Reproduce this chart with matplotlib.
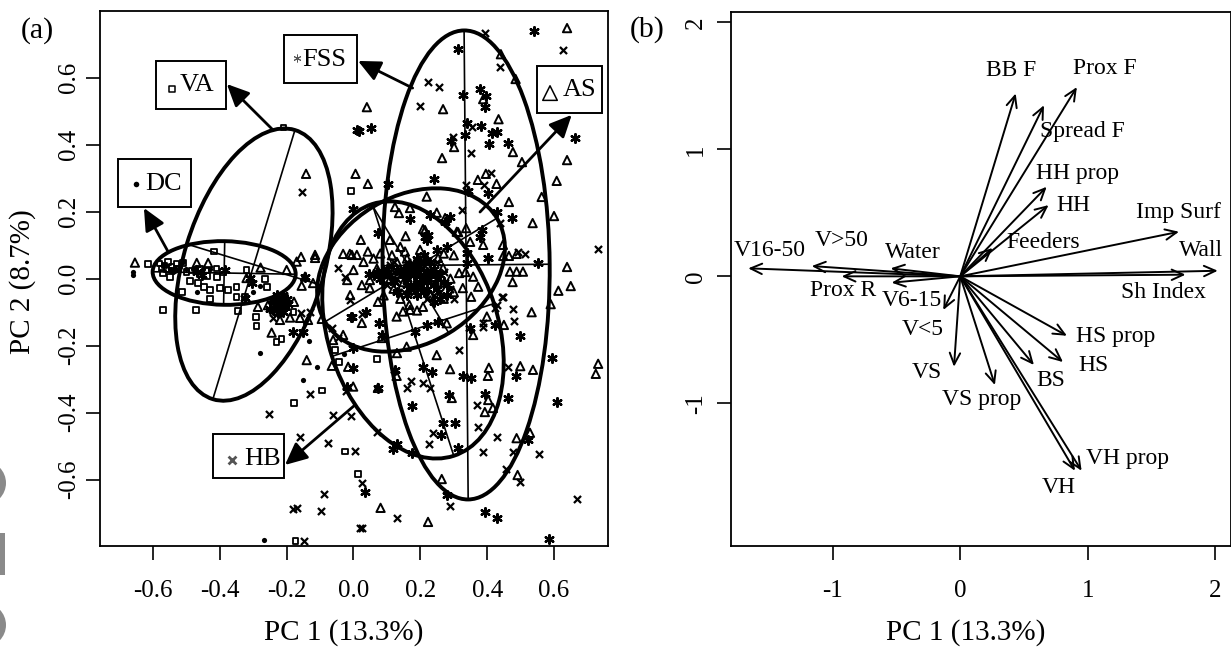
import numpy as np
import matplotlib
matplotlib.use("Agg")
import matplotlib.pyplot as plt
from matplotlib.patches import Ellipse, Rectangle, Circle

plt.rcParams['font.family'] = ['Liberation Serif', 'DejaVu Serif']

# site scores, (PC1, PC2)
as_pc = [(-0.142,0.313),(0.006,0.313),(0.639,0.748),(0.441,0.67),(0.485,0.596),(0.04,0.512),(0.268,0.506),(0.388,0.536),
         (0.434,0.476),(0.301,0.393),(0.265,0.36),(0.477,0.378),(0.504,0.348),(0.639,0.354),(0.608,0.292),(0.043,0.283),
         (0.372,0.295),(0.396,0.313),(0.428,0.283),(0.563,0.244),(0.465,0.229),(0.6,0.187),(0.536,0.166),(0.447,0.101),
         (0.448,0.068),(0.465,0.068),(0.488,0.074),(0.639,0.035),(0.468,0.021),(0.488,0.021),(0.507,0.021),(0.219,0.245),
         (0.124,0.214),(0.136,0.196),(0.169,0.211),(0.313,0.139),(0.337,0.151),(0.208,0.148),(0.156,0.127),(0.109,0.116),
         (0.022,0.116),(0.043,0.081),(-0.011,0.074),(-0.031,0.074),(-0.005,0.071),(0.01,0.071),(-0.115,0.071),(-0.019,-0.004),
         (0,0.026),(0.025,-0.019),(0.049,-0.004),(0.049,-0.028),(-0.01,-0.049),(0.025,-0.132),(0.073,-0.069),(0.084,-0.177),
         (0.129,-0.113),(0.167,-0.078),(0.169,-0.093),(0.19,-0.095),(0.148,-0.098),(0.208,-0.084),(0.279,-0.133),(0.159,-0.203),
         (0.13,-0.222),(0.249,-0.228),(0.358,-0.168),(0.399,-0.113),(0.45,-0.138),(0.352,-0.054),(0.358,0.006),(0.373,-0.024),
         (0.327,-0.028),(0.316,0.017),(0.309,0.14),(0.199,0.086),(0.214,0.145),(0.249,0.197),(0.274,0.181),(0.253,0.062),
         (0.268,0.032),(0.154,0.081),(0.199,0.056),(0.349,0.11),(0.388,0.101),(0.613,-0.036),(0.65,-0.022),(0.533,-0.1),
         (0.59,-0.076),(0.476,-0.01),(0.732,-0.254),(0.725,-0.284),(0.499,-0.261),(0.537,-0.272),(0.405,-0.266),(0.402,-0.29),
         (0.403,-0.362),(0.393,-0.398),(0.417,-0.386),(0.488,-0.476),(0.528,-0.46),(0.491,-0.586),(0.223,-0.726),(0.081,-0.684),
         (0.264,-0.598),(0.294,-0.356),(0.289,-0.27),(0.129,-0.29),(0.073,-0.326),(-0.654,0.048),(-0.435,0.047),(-0.469,0.047),
         (-0.278,0.033),(-0.2,0.026),(-0.17,0.051),(-0.157,0.065),(-0.115,0.062),(-0.155,-0.021),(-0.145,0.006),(-0.121,-0.013),
         (-0.245,-0.161),(-0.286,-0.084),(-0.22,-0.123),(-0.19,-0.116),(-0.16,-0.117),(-0.136,-0.123),(-0.178,-0.069),(-0.256,-0.079),
         (-0.32,0.002),(-0.14,-0.243),(-0.065,-0.26),(-0.016,-0.263),(-0.031,-0.168),(-0.061,-0.183),(-0.095,-0.12),(-0.001,-0.322),
         (0.07,0.03),(0.1,0.02),(0.13,0.05),(0.16,0.06),(0.18,0.03),(0.22,0.04),(0.24,0.02),(0.12,-0.03),(0.15,-0.01),(0.2,-0.02),
         (0.23,-0.05),(0.27,-0.06),(0.3,-0.04),(0.26,-0.01),(0.29,0.0),(0.11,0.0),(0.09,-0.05),(0.14,-0.06),
         (0.08,0.075),(0.115,0.07),(0.14,0.095),(0.06,0.06),(0.27,0.075),(0.3,0.07),(0.335,0.02),(0.03,0.05)]

fss_pc = [(0.01,0.444),(0.54,0.74),(0.313,0.685),(0.328,0.548),(0.379,0.566),(0.395,0.545),(0.394,0.513),(0.339,0.465),
          (0.381,0.456),(0.414,0.435),(0.428,0.438),(0.016,0.441),(0.051,0.45),(0.334,0.429),(0.291,0.411),(0.405,0.402),
          (0.461,0.405),(0.663,0.42),(0.103,0.283),(0.24,0.298),(0.343,0.262),(0.402,0.256),(0.428,0.199),(0.473,0.181),
          (0.403,0.062),(0.552,0.047),(0.169,0.178),(-0.001,0.208),(0.384,0.145),(0.379,0.124),(0.217,0.124),(0.22,0.116),
          (0.073,0.136),(-0.007,-0.113),(0.037,-0.098),(0.075,-0.132),(0.084,-0.168),(0.219,-0.138),(0.253,-0.128),(0.184,-0.158),
          (0.349,-0.147),(0.423,-0.138),(0.403,0.062),(0.229,0.19),(0.289,0.185),(0.274,0.17),(0.214,0.125),(0.223,0.13),
          (0.249,0.086),(0.279,0.096),(0.339,0.077),(0.339,0.047),(0.498,-0.17),(0.595,-0.237),(0.485,-0.29),(0.461,-0.356),
          (0.608,-0.368),(0.393,-0.344),(0.521,-0.481),(0.585,-0.777),(0.393,-0.696),(0.43,-0.714),(0.034,-0.636),(0.279,-0.646),
          (0.313,-0.505),(0.262,-0.467),(0.268,-0.431),(0.303,-0.43),(0.286,-0.347),(0.174,-0.38),(0.208,-0.263),(0.235,-0.278),
          (0.327,-0.29),(0.352,-0.296),(0.124,-0.273),(0.073,-0.326),(0.118,-0.508),(0.129,-0.494),(0.174,-0.52),(-0.001,-0.267),
          (-0.001,-0.207),(-0.02,-0.322),(-0.005,-0.113),(-0.385,0.026),(-0.469,0.021),(-0.454,0.011),(-0.31,0.002),(-0.305,-0.013),
          (-0.325,-0.058),(-0.23,-0.064),(-0.211,-0.049),(-0.241,-0.093),(-0.226,-0.102),(-0.145,0.006),(-0.181,-0.158),(-0.151,-0.158),
          (-0.215,-0.075),(-0.2,-0.06),(-0.235,-0.08),(-0.22,-0.09),
          (0.08,0.0),(0.1,0.03),(0.12,-0.01),(0.14,0.02),(0.16,0.0),(0.18,-0.02),(0.2,0.01),(0.22,-0.01),(0.24,0.03),(0.26,0.01),
          (0.17,0.04),(0.19,0.06),(0.21,0.07),(0.23,0.05),(0.15,0.03),(0.13,-0.04),(0.17,-0.03),(0.19,-0.05),(0.21,-0.04),(0.25,-0.03),
          (0.28,-0.02),(0.24,-0.07),(0.28,-0.05),(0.2,0.03),(0.18,0.01),(0.16,-0.02),(0.22,0.02),(0.24,-0.02),
          (0.09,0.015),(0.11,0.01),(0.13,0.025),(0.15,0.01),(0.17,0.015),(0.19,0.02),(0.21,0.0),(0.23,0.015),(0.25,0.0),(0.27,-0.01),
          (0.06,0.01),(0.07,0.02),(0.045,0.015),(0.2,-0.01),(0.18,0.045),(0.22,0.055),(0.2,0.05),(0.16,-0.05),(0.22,-0.03),(0.26,-0.06),
          (-0.225,-0.07),(-0.205,-0.085),(-0.215,-0.06),(-0.195,-0.075),(-0.24,-0.065),(-0.23,-0.05),(-0.25,-0.09),(-0.21,-0.1)]

hb_pc = [(-0.154,0.259),(0.627,0.683),(0.393,0.733),(0.439,0.632),(0.222,0.587),(0.256,0.572),(0.199,0.516),(0.354,0.453),
         (0.298,0.423),(0.351,0.375),(0.411,0.316),(0.337,0.28),(0.391,0.28),(0.438,0.166),(0.732,0.089),(0.491,0.08),(0.513,0.074),
         (0.324,0.205),(-0.046,0.032),(-0.025,0.005),(-0.01,-0.064),(0.025,-0.105),(0.316,-0.213),(0.387,-0.132),(0.428,-0.078),
         (0.446,-0.054),(0.444,-0.055),(0.477,-0.09),(0.48,-0.125),(0.461,-0.264),(0.37,-0.376),(0.373,-0.442),(0.43,-0.473),
         (0.555,-0.522),(0.387,-0.516),(0.478,-0.516),(0.455,-0.568),(0.498,-0.606),(0.668,-0.658),(0.29,-0.679),(0.129,-0.713),
         (0.024,-0.743),(0.025,-0.61),(0.226,-0.494),(0.238,-0.461),(0.171,-0.305),(0.159,-0.326),(0.208,-0.311),(0.229,-0.326),
         (0.069,-0.457),(0.388,-0.143),(0.423,-0.087),(-0.13,-0.344),(-0.253,-0.404),(-0.16,-0.473),(-0.076,-0.49),(-0.061,-0.407),
         (-0.008,-0.409),(0.004,-0.513),(-0.088,-0.643),(-0.181,-0.687),(-0.169,-0.684),(-0.097,-0.693),(-0.148,-0.783),(0.019,-0.743),
         (-0.24,-0.117),(-0.157,-0.102),(-0.13,-0.098),(-0.046,-0.177),(-0.065,-0.147),(-0.022,-0.334),
         (0.09,0.01),(0.11,0.04),(0.13,0.0),(0.15,-0.04),(0.17,0.02),(0.19,-0.01),(0.21,0.04),(0.23,0.0),(0.25,0.05),(0.27,0.02),
         (0.16,0.05),(0.2,-0.03),(0.22,-0.06),(0.26,-0.04),(0.12,0.02),(0.24,-0.05),(0.18,-0.04),
         (0.1,-0.02),(0.14,0.01),(0.18,0.03),(0.22,0.01),(0.2,0.02),(0.16,0.03),(0.24,0.01),(0.12,0.05),(0.29,-0.03),(0.3,-0.06)]

va_pc = [(-0.008,0.262),(-0.209,0.451),(-0.615,0.044),(-0.58,0.045),(-0.565,0.04),(-0.555,0.05),(-0.545,0.035),(-0.53,0.045),
         (-0.57,0.017),(-0.549,0.005),(-0.51,0.047),(-0.489,-0.007),(-0.465,-0.013),(-0.447,-0.025),(-0.438,0.008),(-0.429,-0.034),
         (-0.417,0.081),(-0.399,-0.027),(-0.409,0.005),(-0.375,-0.034),(-0.35,-0.024),(-0.429,-0.06),(-0.513,-0.039),(-0.57,-0.093),
         (-0.471,-0.093),(-0.32,0.026),(-0.265,-0.001),(-0.259,-0.024),(-0.35,-0.054),(-0.325,-0.054),(-0.346,-0.096),(-0.292,-0.114),
         (-0.29,-0.141),(-0.23,-0.189),(-0.215,-0.18),(-0.178,-0.371),(-0.094,-0.334),(-0.025,-0.516),(0.013,-0.583),(-0.173,-0.783),
         (-0.055,-0.213),(-0.043,-0.248),(0.07,-0.24),(-0.21,-0.06),(-0.18,-0.1),
         (-0.575,0.03),(-0.56,0.028),(-0.54,0.025),(-0.525,0.03),(-0.5,0.02),(-0.485,0.025),(-0.46,0.03),(-0.44,0.025),(-0.41,0.03),(-0.39,0.02)]

dc_pc = [(-0.659,0.02),(-0.659,0.011),(-0.52,0.035),(-0.51,0.05),(-0.5,0.03),(-0.54,0.02),(-0.469,-0.039),(-0.28,-0.022),(-0.133,-0.185),
         (-0.28,-0.222),(-0.109,-0.264),(-0.151,-0.302),(-0.268,-0.78),(-0.028,-0.225),(-0.48,0.03),(-0.25,-0.07),(-0.3,-0.04),
         (-0.57,0.04),(-0.55,0.03),(-0.53,0.03),(-0.47,0.035),(-0.45,0.03),(-0.43,0.03)]

# ellipses: name, centre x, centre y, semi-major, semi-minor, angle of the major axis
ell_names = ['VA', 'DC', 'FSS', 'AS', 'HB']
ell_cx = [-0.298, -0.387, 0.337, 0.172, 0.178]
ell_cy = [0.042, 0.017, 0.041, 0.026, -0.153]
ell_a = [0.42, 0.214, 0.70, 0.30, 0.395]
ell_b = [0.21, 0.095, 0.25, 0.22, 0.255]
ell_ang = [73, -1, 90.5, 31, 108]

# group labels in panel (a)
box_x0 = [-0.591, -0.7056, -0.209, 0.55, -0.4195]
box_x1 = [-0.3815, -0.486, 0.011, 0.7436, -0.207]
box_y0 = [0.507, 0.215, 0.584, 0.4955, -0.596]
box_y1 = [0.651, 0.357, 0.727, 0.636, -0.4636]
box_tx = [-0.468, -0.569, -0.088, 0.675, -0.273]
box_ty = [0.578, 0.283, 0.653, 0.563, -0.538]
arrow_from = [(-0.241,0.444), (-0.555,0.081), (0.177,0.569), (0.3785,0.199), (0.0045,-0.377)]
arrow_to = [(-0.379,0.581), (-0.627,0.211), (0.0135,0.65), (0.653,0.489), (-0.205,-0.556)]

# loadings in panel (b)
var_names = ['BB F','Spread F','Prox F','HH prop','HH','Feeders','Imp Surf','Wall','Sh Index','HS prop','HS','BS',
             'VH prop','VH','VS prop','VS','V<5','V6-15','Prox R','Water','V>50','V16-50']
load_x = [0.435,0.657,0.915,0.678,0.693,0.254,1.716,2.02,1.767,0.837,0.806,0.578,0.952,0.9,0.272,-0.049,-0.133,-0.538,-0.93,-0.546,-1.165,-1.663]
load_y = [1.44,1.347,1.49,0.705,0.561,0.223,0.351,0.044,0.013,-0.468,-0.675,-0.698,-1.531,-1.531,-0.856,-0.712,-0.265,-0.05,0.0,0.063,0.081,0.063]
lab_x = [0.398,0.955,1.135,0.923,0.884,0.649,1.708,1.888,1.598,1.221,1.049,0.711,1.315,0.774,0.17,-0.261,-0.295,-0.379,-0.92,-0.371,-0.928,-1.492]
lab_y = [1.617,1.144,1.64,0.813,0.554,0.27,0.506,0.207,-0.131,-0.47,-0.706,-0.824,-1.431,-1.659,-0.966,-0.761,-0.415,-0.187,-0.108,0.191,0.286,0.207]

W, H = 1231, 652
fig = plt.figure(figsize=(W / 100, H / 100), dpi=100)
tick_fs = 18
label_fs = 21
box_fs = 19
var_fs = 17


def add_axes_px(left, right, top, bottom):
    return fig.add_axes([left / W, (H - bottom) / H, (right - left) / W, (bottom - top) / H])


def style_axes(ax, ypad):
    for s in ax.spines.values():
        s.set_linewidth(1.3)
    ax.tick_params(length=10, width=1.2, labelsize=tick_fs)
    ax.tick_params(axis='x', pad=15)
    ax.tick_params(axis='y', pad=ypad)
    for t in ax.get_yticklabels():
        t.set_rotation(90)
        t.set_va('center')


# Panel a
ax = add_axes_px(100, 608, 11, 545.7)
ax.set_xlim(-0.7585, 0.7615)
ax.set_ylim(-0.797, 0.799)
ax.set_xticks([-0.6, -0.4, -0.2, 0.0, 0.2, 0.4, 0.6])
ax.set_xticklabels(['-0.6', '-0.4', '-0.2', '0.0', '0.2', '0.4', '0.6'])
ax.set_yticks([-0.6, -0.4, -0.2, 0.0, 0.2, 0.4, 0.6])
ax.set_yticklabels(['-0.6', '-0.4', '-0.2', '0.0', '0.2', '0.4', '0.6'])
style_axes(ax, 4.5)

pts = np.array(as_pc)
ax.scatter(pts[:, 0], pts[:, 1], marker='^', s=36, facecolors='none', edgecolors='k', linewidths=1.4)
pts = np.array(fss_pc)
ax.scatter(pts[:, 0], pts[:, 1], marker=(6, 2, 0), s=38, c='k', linewidths=1.7)
pts = np.array(hb_pc)
ax.scatter(pts[:, 0], pts[:, 1], marker='x', s=26, c='k', linewidths=1.6)
pts = np.array(va_pc)
ax.scatter(pts[:, 0], pts[:, 1], marker='s', s=16, facecolors='none', edgecolors='k', linewidths=1.3)
pts = np.array(dc_pc)
ax.scatter(pts[:, 0], pts[:, 1], marker='o', s=14, c='k', linewidths=0)

for cx, cy, a, b, ang in zip(ell_cx, ell_cy, ell_a, ell_b, ell_ang):
    ax.add_patch(Ellipse((cx, cy), 2 * a, 2 * b, angle=ang, fill=False, ec='k', lw=2.8, zorder=3))
    t = np.deg2rad(ang)
    ax.plot([cx - a * np.cos(t), cx + a * np.cos(t)], [cy - a * np.sin(t), cy + a * np.sin(t)], c='k', lw=1.2, zorder=3)
    ax.plot([cx + b * np.sin(t), cx - b * np.sin(t)], [cy - b * np.cos(t), cy + b * np.cos(t)], c='k', lw=1.2, zorder=3)

for i, name in enumerate(ell_names):
    ax.add_patch(Rectangle((box_x0[i], box_y0[i]), box_x1[i] - box_x0[i], box_y1[i] - box_y0[i],
                           fc='white', ec='k', lw=1.4, zorder=5))
    ax.text(box_tx[i], box_ty[i], name, ha='center', va='center', fontsize=box_fs, zorder=6)
    ax.annotate('', xy=arrow_to[i], xytext=arrow_from[i], zorder=6,
                arrowprops=dict(arrowstyle='-|>,head_length=0.9,head_width=0.42', color='k', lw=2,
                                mutation_scale=15, shrinkA=0, shrinkB=0))

# legend glyphs inside the label boxes
ax.scatter([-0.543], [0.566], marker='s', s=14, facecolors='none', edgecolors='k', linewidths=1.1, zorder=6)
ax.scatter([-0.651], [0.283], marker='o', s=16, c='k', linewidths=0, zorder=6)
ax.scatter([-0.17], [0.659], marker=(6, 2, 0), s=26, c='#555555', linewidths=0.7, zorder=6)
ax.scatter([0.588], [0.554], marker='^', s=110, facecolors='none', edgecolors='k', linewidths=1.1, zorder=6)
ax.scatter([-0.364], [-0.541], marker='x', s=32, c='#555555', linewidths=2, zorder=6)

ax.set_xlabel('PC 1 (13.3%)', fontsize=label_fs, va='center')
ax.xaxis.set_label_coords((344 - 100) / 508, (545.7 - 633) / 534.7)
ax.set_ylabel('PC 2 (8.7%)', fontsize=label_fs, va='center')
ax.yaxis.set_label_coords((23 - 100) / 508, (545.7 - 282) / 534.7)

# Panel b
axb = add_axes_px(730.5, 1230.5, 12.3, 545.7)
axb.set_xlim(-1.802, 2.12)
axb.set_ylim(-2.121, 2.079)
axb.set_xticks([-1, 0, 1, 2])
axb.set_xticklabels(['-1', '0', '1', '2'])
axb.set_yticks([-1, 0, 1, 2])
axb.set_yticklabels(['-1', '0', '1', '2'])
style_axes(axb, 7)

for i, name in enumerate(var_names):
    axb.annotate('', xy=(load_x[i], load_y[i]), xytext=(0, 0),
                 arrowprops=dict(arrowstyle='->,head_length=0.55,head_width=0.25', color='k', lw=1.4,
                                 mutation_scale=15, shrinkA=0, shrinkB=0))
    axb.text(lab_x[i], lab_y[i], name, ha='center', va='center', fontsize=var_fs, zorder=6)

axb.set_xlabel('PC 1 (13.3%)', fontsize=label_fs, va='center')
axb.xaxis.set_label_coords((966 - 730.5) / 500, (545.7 - 633) / 533.4)

fig.text(37 / W, 1 - 31 / H, '(a)', fontsize=21.5, ha='center', va='center')
fig.text(647 / W, 1 - 30 / H, '(b)', fontsize=21.5, ha='center', va='center')

# grey watermark cut off at the left edge
grey = '#8a8a8a'
fig.add_artist(Circle((-16, H - 483), 22, fc=grey, ec='none', transform=None))
fig.add_artist(Circle((-16, H - 625), 22, fc=grey, ec='none', transform=None))
fig.add_artist(Rectangle((0, H - 575), 5, 42, fc=grey, ec='none', transform=None))

fig.savefig('out.png', dpi=100)
